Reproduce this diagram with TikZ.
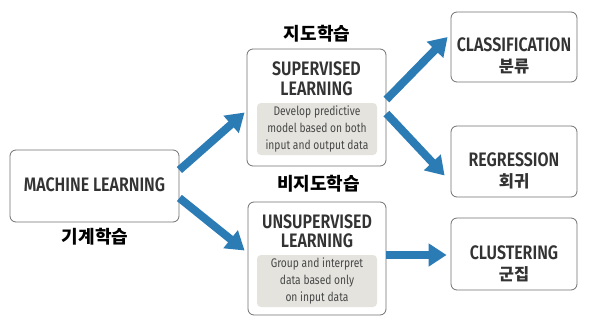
\documentclass[tikz,border=0pt]{standalone}
\usepackage{fontspec}
\setmainfont{Fira Sans}[FakeStretch=0.82,BoldFont={Fira Sans SemiBold}]
\newfontfamily\kr{Noto Sans CJK KR}
\usetikzlibrary{arrows.meta}
\definecolor{arrowblue}{HTML}{2B7BB5}
\definecolor{boxgray}{HTML}{707070}
\definecolor{notegray}{HTML}{E4E3DE}
\definecolor{textgray}{HTML}{333333}

\begin{document}
\begin{tikzpicture}[x=1pt,y=-1pt,
  every node/.style={align=center,inner sep=0pt},
  bx/.style={draw=boxgray,rounded corners=6pt,fill=white,line width=0.8pt},
  note/.style={fill=notegray,rounded corners=4pt,minimum width=120pt,minimum height=52pt,
    text=textgray!90,font=\fontsize{12.5}{17}\selectfont},
  ttl/.style={text=textgray,font=\fontsize{19.5}{19.5}\selectfont\bfseries},
  krlab/.style={font=\kr\fontsize{18}{20}\selectfont\bfseries},
  ar/.style={arrowblue,line width=8pt,-{Triangle[width=22pt,length=18pt]}}
]
\useasboundingbox (0,0) rectangle (592,317);
% boxes
\node[bx,minimum width=169pt,minimum height=72pt] (ml) at (94.5,186) {};
\node[bx,minimum width=139pt,minimum height=117pt] (sup) at (316.5,107.5) {};
\node[bx,minimum width=138pt,minimum height=113pt] (unsup) at (317,258.5) {};
\node[bx,minimum width=126pt,minimum height=70pt] (cls) at (514,47) {};
\node[bx,minimum width=126pt,minimum height=71pt] (reg) at (514,161.5) {};
\node[bx,minimum width=126pt,minimum height=72pt] (clu) at (514,254) {};
% texts
\node[ttl] (mltxt) at (94.5,185) {MACHINE LEARNING};
\node[krlab] (mlkr) at (95,236.5) {기계학습};
\node[krlab] (supkr) at (317,34) {지도학습};
\node[ttl] (suptxt) at (316.5,78.5) {SUPERVISED\\LEARNING};
\node[note] (supnote) at (317,129) {Develop predictive\\model based on both\\input and output data};
\node[krlab] (unsupkr) at (318.5,184) {비지도학습};
\node[ttl] (unsuptxt) at (317,231) {UNSUPERVISED\\LEARNING};
\node[note] (unsupnote) at (317,281) {Group and interpret\\data based only\\on input data};
\node[ttl,font=\fontsize{19.5}{21}\selectfont\bfseries] (clstxt) at (514,55.5) {CLASSIFICATION\\{\kr\fontsize{16.5}{21}\selectfont 분류}};
\node[ttl,font=\fontsize{19.5}{21}\selectfont\bfseries] (regtxt) at (514,170.5) {REGRESSION\\{\kr\fontsize{16.5}{21}\selectfont 회귀}};
\node[ttl,font=\fontsize{19.5}{21}\selectfont\bfseries] (clutxt) at (514,264) {CLUSTERING\\{\kr\fontsize{16.5}{21}\selectfont 군집}};
% arrows
\draw[ar] ([yshift=16pt]ml.east) -- ([xshift=-2pt,yshift=-5pt]sup.west);
\draw[ar] ([yshift=-12pt]ml.east) -- ([xshift=-3pt,yshift=8pt]unsup.west);
\draw[ar] ([yshift=8pt]sup.east) -- ([xshift=-3pt,yshift=10pt]cls.west);
\draw[ar] ([yshift=-6pt]sup.east) -- ([xshift=-6pt,yshift=-14pt]reg.west);
\draw[ar] ([yshift=3.5pt]unsup.east) -- ([xshift=-4pt,yshift=-1pt]clu.west);
\end{tikzpicture}
\end{document}
